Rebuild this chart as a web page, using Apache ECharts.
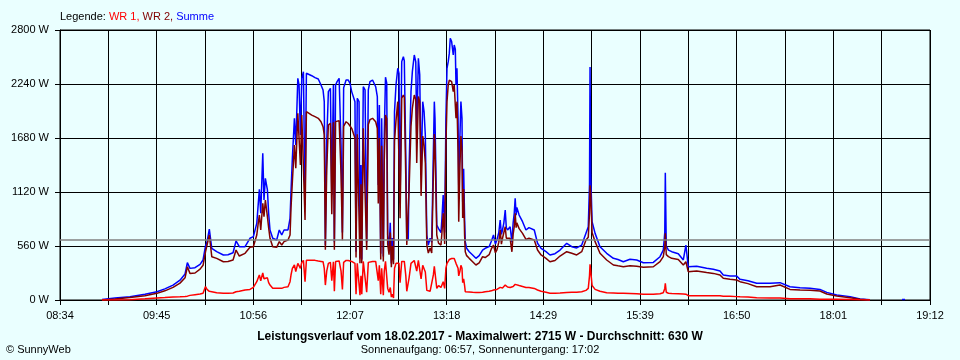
<!DOCTYPE html>
<html>
<head>
<meta charset="utf-8">
<script src="https://cdn.jsdelivr.net/npm/echarts@6/dist/echarts.min.js"></script>
<style>
html,body{margin:0;padding:0;background:#EAFFFF;}
#c{width:960px;height:360px;}
</style>
</head>
<body>
<div id="c"></div>
<script>
// ---- data ----
// time of day in minutes after midnight
const TIME_MIN = [
545.4,554.9,565.9,576.9,585.7,591.5,597.5,602.6,606.3,608.0,
609.9,613.6,617.3,619.5,621.3,622.4,624.1,625.9,629.5,634.4,
637.8,641.5,643.7,646.1,650.3,653.9,656.4,658.9,660.0,660.8,
661.8,663.3,664.2,665.2,666.7,667.6,668.6,670.6,673.5,675.4,
677.2,678.9,681.8,683.3,684.0,685.0,686.5,687.5,689.0,689.9,
690.9,691.9,693.1,694.3,695.3,696.7,699.2,701.6,704.0,706.0,
707.5,708.4,709.2,710.2,711.4,712.9,713.9,715.1,715.8,716.7,
717.8,719.3,720.7,721.7,722.6,724.4,726.0,727.3,728.5,729.7,
730.9,731.7,732.6,733.9,734.6,735.3,735.9,737.0,738.3,739.5,
740.7,741.9,743.8,745.1,746.1,747.3,748.0,748.8,749.8,750.5,
751.7,752.4,753.3,754.2,754.9,755.9,756.8,757.6,758.3,759.2,
759.9,761.0,762.3,763.2,764.0,765.2,766.4,767.1,768.2,768.9,
770.0,770.6,772.0,773.0,774.4,775.5,776.2,777.4,778.4,779.4,
780.6,781.6,782.5,783.6,784.7,786.0,787.2,788.4,789.1,789.6,
790.9,792.2,794.0,794.7,795.6,796.7,797.6,798.4,799.3,800.1,
800.8,801.8,803.0,803.7,804.5,805.0,805.7,806.5,807.0,807.9,
808.6,809.4,809.9,810.6,811.3,811.8,812.8,814.7,817.2,819.6,
822.0,824.5,826.4,829.3,830.9,832.5,833.9,835.0,836.4,837.4,
838.3,839.1,840.1,841.1,841.9,842.8,844.7,846.0,846.9,847.7,
848.4,849.1,849.6,851.3,853.8,856.3,858.5,859.9,862.4,864.8,
867.4,871.0,873.9,877.6,881.3,886.2,889.9,893.5,897.2,900.3,
902.0,902.9,903.3,903.8,904.8,907.0,910.6,915.5,920.4,923.8,
927.7,932.6,937.5,942.4,949.7,954.6,957.0,958.1,958.5,959.2,
960.8,963.2,968.0,971.7,973.6,975.3,981.5,988.8,993.7,998.6,
1001.0,1005.9,1010.8,1013.3,1019.1,1025.5,1035.3,1042.6,1049.9,1057.3,
1064.6,1071.9,1076.9,1084.2,1094.0,1101.3,1108.6,1120.0,1132.1,1134.3
];
const SUMME = [
5,20,34,60,86,115,155,205,270,387,
328,335,370,415,560,600,736,536,501,467,
470,490,612,553,553,640,657,795,1000,1148,
899,1521,1037,1262,1141,900,726,640,622,726,
674,726,726,847,1123,1469,1884,1607,2299,2230,
1711,2299,2368,1000,2351,2334,2326,2306,2292,2230,
2178,2057,570,1642,2161,2195,1089,2230,600,2230,
2264,2299,1607,700,2200,2281,2281,2247,2161,2150,
2057,500,2092,2057,430,1400,420,2212,2180,600,
2180,2264,2281,2299,2212,2109,1193,2022,480,1884,
450,1711,2310,2250,674,539,800,380,643,420,
1953,2230,2403,2350,1020,2472,2523,2480,1469,650,
620,1369,2161,2368,2541,2470,1711,2506,2334,1296,
2057,1950,1711,674,570,640,600,1538,2057,1884,
778,740,700,850,1089,700,1884,2403,2472,2560,
2715,2680,2541,2644,2600,2230,2403,1884,1193,1711,
2057,1884,1020,1360,847,605,536,501,467,432,
460,518,536,553,610,674,580,622,700,830,
680,726,800,933,750,726,760,600,800,899,
1054,880,960,881,812,726,750,760,726,588,
536,501,467,480,518,588,553,540,570,691,
760,1200,2416,1300,812,691,553,484,432,420,
397,422,415,387,390,449,518,700,1320,560,
518,501,480,415,570,346,350,330,318,300,
259,250,249,214,200,173,173,180,138,128,
121,110,79,52,35,10,3,null,5,5
];
const WR2 = [
0,10,25,45,69,95,131,175,230,345,
276,280,320,360,500,520,674,449,432,397,
400,415,518,456,484,546,553,674,800,881,
726,1003,864,1037,864,750,640,553,546,605,
570,605,622,674,951,1227,1607,1366,1936,1918,
1400,1918,1936,830,1953,1936,1918,1901,1884,1849,
1797,1711,520,1350,1815,1832,890,1843,520,1850,
1867,1860,1300,620,1800,1849,1830,1840,1780,1780,
1680,440,1720,1700,380,1200,380,1780,1790,520,
1820,1870,1884,1900,1849,1780,1000,1680,420,1600,
400,1450,1918,1880,580,470,700,340,560,370,
1650,1860,2057,2057,847,2092,2126,2100,1250,570,
560,1150,1800,1990,2126,2080,1420,2110,2057,1080,
1700,1600,1420,570,487,540,487,1300,1720,1607,
674,590,570,700,900,580,1600,2057,2230,2280,
2300,2264,2160,2230,2230,1884,2057,1540,812,1400,
1700,1550,850,1150,674,501,460,432,397,363,
385,449,440,470,530,570,490,520,600,726,
580,640,700,760,640,622,640,500,680,760,
899,750,800,740,691,629,640,640,622,518,
467,432,397,410,456,501,484,467,501,622,
650,900,1190,1100,700,605,484,415,363,355,
346,355,350,340,345,397,450,550,691,470,
450,432,420,363,397,294,300,285,276,260,
225,215,207,190,170,138,138,155,110,104,
100,93,62,41,24,7,0,null,null,null
];
const WR1 = [
0,0,3,12,22,26,31,33,36,40,
48,55,62,69,140,110,90,86,76,69,
70,72,86,90,104,110,131,190,230,259,
200,280,220,238,230,180,155,121,121,121,
121,131,138,190,259,328,363,295,380,397,
328,390,411,190,411,411,411,411,404,400,
397,328,155,300,380,390,200,397,90,400,
400,405,300,110,390,410,410,405,400,395,
380,60,380,370,50,250,60,400,400,80,
390,400,400,410,400,380,200,360,60,330,
50,300,400,390,120,80,130,30,60,20,
330,380,400,380,180,400,410,400,250,90,
80,230,380,400,410,400,300,410,390,220,
360,340,290,100,80,90,80,260,350,330,
120,150,130,150,190,120,330,380,400,420,
430,430,420,430,420,380,400,330,250,300,
360,330,180,220,150,86,82,84,80,78,
78,80,86,90,95,104,100,110,115,131,
120,125,140,155,140,135,130,110,140,150,
162,150,160,150,140,130,130,131,120,104,
90,80,69,70,72,78,80,80,85,100,
120,250,370,300,150,110,90,75,72,70,
69,68,65,59,59,65,75,120,173,80,
70,67,65,63,60,45,45,45,45,45,
40,40,35,33,30,24,22,22,14,14,
12,8,8,7,5,2,0,null,null,null
];
const TICK_LABELS = ['08:34','09:45','10:56','12:07','13:18','14:29','15:39','16:50','18:01','19:12'];
const Y_MAX = 2800, Y_STEP = 560;
const AVERAGE_W = 630;
const LEGEND = ['WR 1', 'WR 2', 'Summe'];
const TITLE = 'Leistungsverlauf vom 18.02.2017 - Maximalwert: 2715 W - Durchschnitt: 630 W';
const SUBTITLE = 'Sonnenaufgang: 06:57, Sonnenuntergang: 17:02';
const COPYRIGHT = '\u00A9 SunnyWeb';

// axis: from 08:34 (+~0.6 min) to 19:12, 18 tick steps
const AXIS_START = 514.6, AXIS_END = 1152.6, STEPS = 18;
const TICK_MIN = (AXIS_END - AXIS_START) / STEPS;

function build(vals) {
  return TIME_MIN.map((t, i) => [(t - AXIS_START) / TICK_MIN, vals[i]]);
}

const FONT = 'Liberation Sans';
const chart = echarts.init(document.getElementById('c'), null, {renderer: 'canvas'});
const lineCommon = {type: 'line', showSymbol: false, symbol: 'none', animation: false, connectNulls: false};
chart.setOption({
  backgroundColor: '#EAFFFF',
  animation: false,
  textStyle: {fontFamily: FONT},
  grid: {left: 60, right: 30, top: 30, bottom: 60, show: true, borderColor: '#000', borderWidth: 1, backgroundColor: 'transparent'},
  xAxis: {
    type: 'value', min: 0, max: STEPS, interval: 1,
    axisLine: {show: true, onZero: false, lineStyle: {color: '#000', width: 1}},
    axisTick: {show: true, length: 5, lineStyle: {color: '#000'}},
    splitLine: {show: true, lineStyle: {color: '#000', width: 1}},
    axisLabel: {
      color: '#000', fontSize: 11, fontFamily: FONT, margin: 10,
      formatter: v => (Math.round(v) % 2 === 0 ? TICK_LABELS[Math.round(v) / 2] : '')
    }
  },
  yAxis: {
    type: 'value', min: 0, max: Y_MAX, interval: Y_STEP,
    axisLine: {show: true, lineStyle: {color: '#000', width: 1}},
    axisTick: {show: true, length: 5, lineStyle: {color: '#000'}},
    splitLine: {show: true, lineStyle: {color: '#000', width: 1}},
    axisLabel: {color: '#000', fontSize: 11, fontFamily: FONT, margin: 11, formatter: v => v + ' W'}
  },
  series: [
    Object.assign({}, lineCommon, {
      name: LEGEND[2], data: build(SUMME), z: 3,
      lineStyle: {color: '#0000FF', width: 1.5},
      markLine: {
        silent: true, symbol: 'none', label: {show: false},
        lineStyle: {color: '#808080', type: 'solid', width: 1.5},
        data: [{yAxis: AVERAGE_W}]
      }
    }),
    Object.assign({}, lineCommon, {name: LEGEND[1], data: build(WR2), z: 4, lineStyle: {color: '#800000', width: 1.5}}),
    Object.assign({}, lineCommon, {name: LEGEND[0], data: build(WR1), z: 5, lineStyle: {color: '#FF0000', width: 1.5}})
  ],
  graphic: [
    {
      type: 'text', left: 60, top: 11,
      style: {
        text: '{k|Legende: }{a|' + LEGEND[0] + ', }{b|' + LEGEND[1] + ', }{c|' + LEGEND[2] + '}',
        rich: {
          k: {fill: '#000', fontSize: 11, fontFamily: FONT},
          a: {fill: '#FF0000', fontSize: 11, fontFamily: FONT},
          b: {fill: '#800000', fontSize: 11, fontFamily: FONT},
          c: {fill: '#0000FF', fontSize: 11, fontFamily: FONT}
        }
      }
    },
    {type: 'text', x: 480, y: 337, style: {text: TITLE, fill: '#000', font: 'bold 12px "' + FONT + '"', align: 'center', verticalAlign: 'middle'}},
    {type: 'text', x: 480, y: 350, style: {text: SUBTITLE, fill: '#000', font: '11px "' + FONT + '"', align: 'center', verticalAlign: 'middle'}},
    {type: 'text', x: 6, y: 350, style: {text: COPYRIGHT, fill: '#000', font: '11px "' + FONT + '"', align: 'left', verticalAlign: 'middle'}}
  ]
});
</script>
</body>
</html>
